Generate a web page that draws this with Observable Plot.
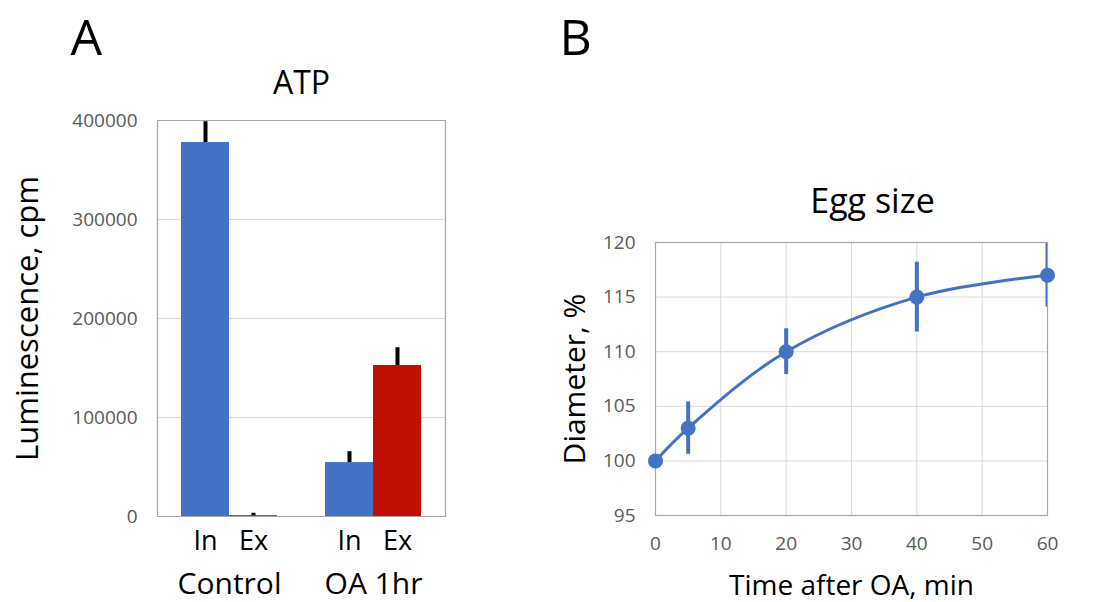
<!DOCTYPE html>
<html>
<head>
<meta charset="utf-8">
<script src="https://cdn.jsdelivr.net/npm/d3@7"></script>
<script src="https://cdn.jsdelivr.net/npm/@observablehq/plot@0.6"></script>
<style>
  html, body { margin: 0; padding: 0; background: #fff; }
  #wrap { position: relative; width: 1106px; height: 602px; font-family: "Open Sans", sans-serif; }
  #panelA { position: absolute; left: 0; top: 0; }
  #panelB { position: absolute; left: 540px; top: 0; }
  svg { overflow: visible; }
</style>
</head>
<body>
<div id="wrap"><div id="panelA"></div><div id="panelB"></div></div>
<script>
// ---------- Panel A data ----------
const groups = ["Control", "OA 1hr"];
const fractions = ["In", "Ex"];
const atpValues = [377800, 800, 54500, 152500];   // Control In, Control Ex, OA In, OA Ex
const atpErrors = [21000, 2500, 11000, 18000];
const atpTicks = [0, 100000, 200000, 300000, 400000];

// ---------- Panel B data ----------
const timeMin = [0, 5, 20, 40, 60];
const diameterPct = [100, 103, 110, 115, 117];
const diameterErr = [0, 2.4, 2.1, 3.2, 2.9];
const timeTicks = [0, 10, 20, 30, 40, 50, 60];
const diamTicks = [95, 100, 105, 110, 115, 120];

const BLUE = "#4472C4";
const RED = "#C00F00";
const GRID = "#D9D9D9";
const FRAME = "#A6A6A6";
const TICKCOL = "#595959";
const FONT = "'Open Sans', sans-serif";

const bars = [];
groups.forEach((g, gi) => fractions.forEach((f, fi) => {
  const i = gi * fractions.length + fi;
  bars.push({group: g, sub: f, value: atpValues[i], err: atpErrors[i]});
}));
const anchorDatum = [{group: groups[0]}];

const chartA = Plot.plot({
  width: 540, height: 602,
  marginLeft: 157, marginRight: 95, marginTop: 120, marginBottom: 86,
  style: {fontFamily: FONT, background: "white"},
  fx: {domain: groups, padding: 0},
  x: {domain: fractions, paddingInner: 0, paddingOuter: 0.485},
  y: {domain: [0, 400000]},
  color: {domain: fractions, range: [BLUE, RED]},
  marks: [
    Plot.ruleY(atpTicks.slice(1, -1), {stroke: GRID, strokeWidth: 1}),
    Plot.barY(bars, {fx: "group", x: "sub", y: "value", fill: "sub"}),
    Plot.ruleX(bars, {fx: "group", x: "sub", y1: "value", y2: d => d.value + d.err, stroke: "black", strokeWidth: 4}),
    Plot.ruleY([atpTicks[0], atpTicks[atpTicks.length - 1]], {stroke: FRAME, strokeWidth: 1.2}),
    Plot.frame({anchor: "left", facetAnchor: "left", stroke: FRAME, strokeWidth: 1.2}),
    Plot.frame({anchor: "right", facetAnchor: "right", stroke: FRAME, strokeWidth: 1.2}),
    Plot.axisY({ticks: atpTicks, tickFormat: d => String(d), tickSize: 0, tickPadding: 20, fontSize: 19, color: TICKCOL, label: null}),
    Plot.axisX({tickSize: 0, tickPadding: 14, fontSize: 27, label: null}),
    Plot.axisFx({anchor: "bottom", tickSize: 0, tickPadding: 56, fontSize: 30, label: null}),
    Plot.text(anchorDatum, {fx: "group", text: () => "ATP", frameAnchor: "top-right", textAnchor: "middle", lineAnchor: "bottom", dy: -27, fontSize: 32}),
    Plot.text(anchorDatum, {fx: "group", text: () => "A", frameAnchor: "top-left", textAnchor: "start", lineAnchor: "bottom", dx: -87, dy: -66, fontSize: 50}),
    Plot.text(anchorDatum, {fx: "group", text: () => "Luminescence, cpm", frameAnchor: "left", rotate: -90, textAnchor: "middle", lineAnchor: "middle", dx: -129, fontSize: 31})
  ]
});
document.getElementById("panelA").append(chartA);

const pts = timeMin.map((t, i) => ({t, d: diameterPct[i], e: diameterErr[i]}));

const chartB = Plot.plot({
  width: 566, height: 602,
  marginLeft: 115, marginRight: 59, marginTop: 242, marginBottom: 87,
  style: {fontFamily: FONT, background: "white"},
  x: {domain: [timeTicks[0], timeTicks[timeTicks.length - 1]]},
  y: {domain: [diamTicks[0], diamTicks[diamTicks.length - 1]]},
  marks: [
    Plot.ruleX(timeTicks.slice(1, -1), {stroke: GRID, strokeWidth: 1}),
    Plot.ruleY(diamTicks.slice(1, -1), {stroke: GRID, strokeWidth: 1}),
    Plot.frame({stroke: FRAME, strokeWidth: 1.2}),
    Plot.ruleX(pts.filter(p => p.e > 0), {x: "t", y1: p => p.d - p.e, y2: p => p.d + p.e, stroke: BLUE, strokeWidth: 4, clip: true}),
    Plot.line(pts, {x: "t", y: "d", curve: "catmull-rom", stroke: BLUE, strokeWidth: 3}),
    Plot.dot(pts, {x: "t", y: "d", r: 7.5, fill: BLUE}),
    Plot.axisY({ticks: diamTicks, tickSize: 0, tickPadding: 20, fontSize: 19, color: TICKCOL, label: null}),
    Plot.axisX({ticks: timeTicks, tickSize: 0, tickPadding: 21, fontSize: 19, color: TICKCOL, label: null}),
    Plot.text(["Egg size"], {frameAnchor: "top", textAnchor: "middle", lineAnchor: "bottom", dx: 21, dy: -30, fontSize: 34}),
    Plot.text(["B"], {frameAnchor: "top-left", textAnchor: "start", lineAnchor: "bottom", dx: -96, dy: -188, fontSize: 50}),
    Plot.text(["Time after OA, min"], {frameAnchor: "bottom", textAnchor: "middle", lineAnchor: "bottom", dy: 79, fontSize: 28}),
    Plot.text(["Diameter, %"], {frameAnchor: "left", rotate: -90, textAnchor: "middle", lineAnchor: "middle", dx: -80, fontSize: 30})
  ]
});
document.getElementById("panelB").append(chartB);
</script>
</body>
</html>
